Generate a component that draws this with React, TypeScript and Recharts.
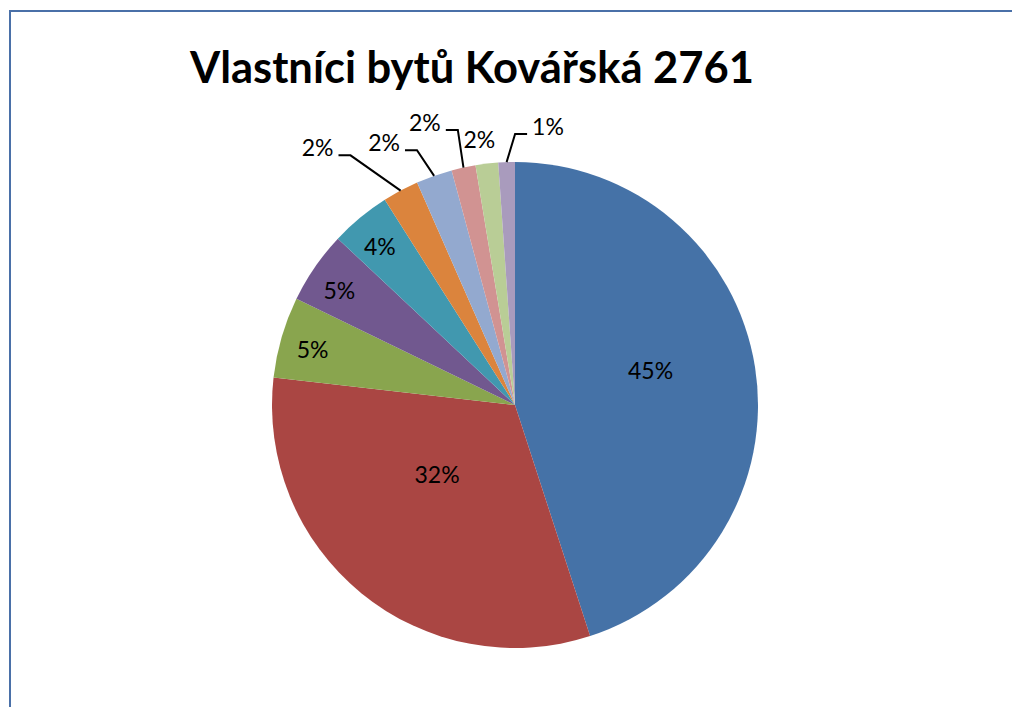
import React from 'react';
import { PieChart, Pie, Cell } from 'recharts';

const owners = [
  'Vlastník A', 'Vlastník B', 'Vlastník C', 'Vlastník D', 'Vlastník E',
  'Vlastník F', 'Vlastník G', 'Vlastník H', 'Vlastník I', 'Vlastník J',
];
const shares = [45, 31.8, 5.4, 4.8, 4.0, 2.4, 2.4, 1.6, 1.5, 1.1];
const colors = [
  '#4572A7', '#AA4643', '#89A54E', '#71588F', '#4198AF',
  '#DB843D', '#93A9CF', '#D19392', '#B9CD96', '#A99BBD',
];

const data = owners.map((name, i) => ({ name, value: shares[i] }));

// label placement per slice: radius, angle nudge (deg, clockwise), and leader side
type LabelPos = { r: number; shift: number; side?: 'left' | 'right' };
const labelPos: LabelPos[] = [
  { r: 140, shift: -5.4 },
  { r: 104, shift: 9.3 },
  { r: 210, shift: -0.7 },
  { r: 210, shift: -1.3 },
  { r: 209, shift: -0.7 },
  { r: 299, shift: -5.3, side: 'left' },
  { r: 273, shift: -1.6, side: 'left' },
  { r: 281, shift: 0.5, side: 'left' },
  { r: 268, shift: -1 },
  { r: 271, shift: 2, side: 'right' },
];

const RAD = Math.PI / 180;
const polar = (cx: number, cy: number, r: number, angle: number) => ({
  x: cx + Math.cos(-angle * RAD) * r,
  y: cy + Math.sin(-angle * RAD) * r,
});

const font = 'Lato, "Open Sans", sans-serif';

const renderLabel = (props: any) => {
  const { cx, cy, midAngle, outerRadius, percent, index } = props;
  const pos = labelPos[index];
  const text = `${Math.round(percent * 100)}%`;
  const angle = midAngle - pos.shift;
  if (!pos.side) {
    const p = polar(cx, cy, pos.r, angle);
    return (
      <text x={p.x} y={p.y} textAnchor="middle" dominantBaseline="central"
        fill="#000" fontSize={23} fontFamily={font}>
        {text}
      </text>
    );
  }
  const start = polar(cx, cy, outerRadius, midAngle);
  const elbow = polar(cx, cy, pos.r, angle);
  const dir = pos.side === 'left' ? -1 : 1;
  const endX = elbow.x + dir * 12;
  return (
    <g>
      <polyline points={`${start.x},${start.y} ${elbow.x},${elbow.y} ${endX},${elbow.y}`}
        fill="none" stroke="#000" strokeWidth={2} />
      <text x={endX + dir * 5} y={elbow.y + 1} textAnchor={dir < 0 ? 'end' : 'start'}
        fill="#000" fontSize={23} fontFamily={font}>
        {text}
      </text>
    </g>
  );
};

export default function App() {
  return (
    <div style={{ position: 'relative', width: 1012, height: 707, overflow: 'hidden', background: '#fff' }}>
      <style>{'body{margin:0}'}</style>
      <div style={{
        position: 'absolute', left: 9, top: 10, width: 1020, height: 720,
        border: '2px solid #4A70A8', boxSizing: 'border-box',
      }} />
      <div style={{
        position: 'absolute', left: 0, top: 38, width: 944, textAlign: 'center',
        fontFamily: font, fontWeight: 700, fontSize: 43.5, color: '#000', lineHeight: '56px',
      }}>
        Vlastníci bytů Kovářská 2761
      </div>
      <div style={{ position: 'absolute', left: 0, top: 0 }}>
        <PieChart width={1012} height={707} margin={{ top: 0, right: 0, bottom: 0, left: 0 }}>
          <Pie
            data={data}
            dataKey="value"
            nameKey="name"
            cx={515}
            cy={405}
            outerRadius={243}
            startAngle={90}
            endAngle={-270}
            stroke="none"
            label={renderLabel}
            labelLine={false}
            isAnimationActive={false}
          >
            {data.map((d, i) => (
              <Cell key={d.name} fill={colors[i]} />
            ))}
          </Pie>
        </PieChart>
      </div>
    </div>
  );
}
